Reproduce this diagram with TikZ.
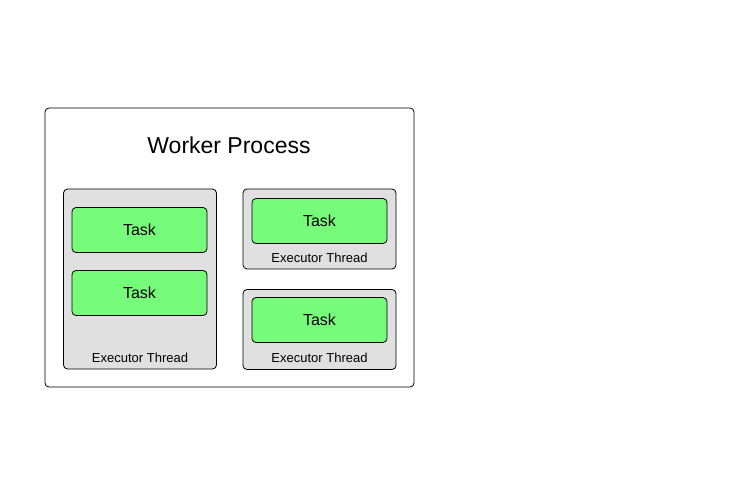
\documentclass[tikz,border=0pt]{standalone}
\usepackage{fontspec}
\setmainfont{Liberation Sans}
\usetikzlibrary{positioning}

\definecolor{taskgreen}{HTML}{77FB7A}
\definecolor{threadgray}{HTML}{E0E0E0}

\tikzset{
	workerbox/.style = {draw, fill=white, rounded corners=4pt, line width=0.8pt, inner sep=0pt},
	threadbox/.style = {draw, fill=threadgray, rounded corners=4pt, line width=0.8pt, inner sep=0pt, minimum width=153pt},
	taskbox/.style = {draw, fill=taskgreen, rounded corners=4pt, line width=0.8pt, inner sep=0pt, minimum width=135pt, minimum height=45pt, font=\fontsize{16}{19}\selectfont},
	threadlabel/.style = {font=\fontsize{13}{15}\selectfont, inner sep=0pt}
}

\begin{document}
\begin{tikzpicture}[x=1pt, y=-1pt]
	\useasboundingbox (0,0) rectangle (738,486);
	
	\node [workerbox, minimum width=369pt, minimum height=279pt] (worker) at (229.5,247.5) {};
	\node [font=\fontsize{23}{27}\selectfont] (title) at (229,145) {Worker Process};
	
	% executor threads
	\node [threadbox, minimum height=180pt] (threadA) at (140,279) {};
	\node [threadbox, minimum height=80pt] (threadB) at (319.5,229) {};
	\node [threadbox, minimum height=80pt] (threadC) at (319.5,329.5) {};
	
	\node [threadlabel] (labelA) at (140,358) {Executor Thread};
	\node [threadlabel] (labelB) at (319.5,258) {Executor Thread};
	\node [threadlabel] (labelC) at (319.5,358) {Executor Thread};
	
	% tasks
	\node [taskbox] (taskA1) at (139.5,230) {Task};
	\node [taskbox] (taskA2) at (139.5,293) {Task};
	\node [taskbox] (taskB) at (319.5,221) {Task};
	\node [taskbox] (taskC) at (319.5,320) {Task};
\end{tikzpicture}
\end{document}
